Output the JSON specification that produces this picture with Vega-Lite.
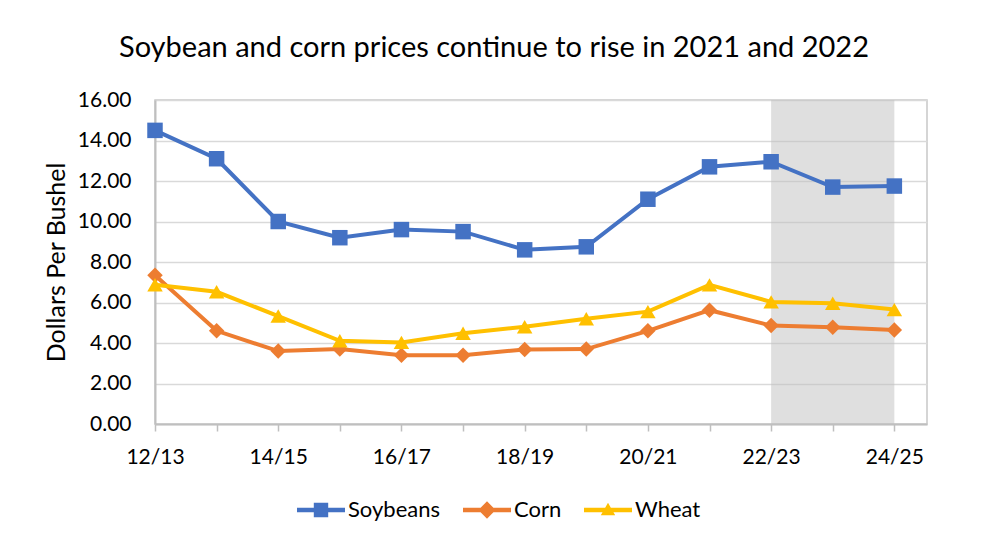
{
  "$schema": "https://vega.github.io/schema/vega-lite/v6.json",
  "width": 772,
  "height": 324,
  "autosize": {"type": "none"},
  "padding": {"left": 155, "top": 100, "right": 62, "bottom": 120},
  "background": "white",
  "config": {"font": "Lato", "view": {"stroke": "#C8C8C8", "strokeWidth": 1.5}},
  "title": {"text": "Soybean and corn prices continue to rise in 2021 and 2022", "fontSize": 29, "font": "Lato", "fontWeight": "normal", "color": "#000000", "anchor": "middle", "dx": -47, "offset": 26},
  "datasets": {
    "prices": [
      {"season": "12/13", "i": 0, "series": "Soybeans", "price": 14.5},
      {"season": "13/14", "i": 1, "series": "Soybeans", "price": 13.1},
      {"season": "14/15", "i": 2, "series": "Soybeans", "price": 10.0},
      {"season": "15/16", "i": 3, "series": "Soybeans", "price": 9.2},
      {"season": "16/17", "i": 4, "series": "Soybeans", "price": 9.6},
      {"season": "17/18", "i": 5, "series": "Soybeans", "price": 9.5},
      {"season": "18/19", "i": 6, "series": "Soybeans", "price": 8.6},
      {"season": "19/20", "i": 7, "series": "Soybeans", "price": 8.75},
      {"season": "20/21", "i": 8, "series": "Soybeans", "price": 11.1},
      {"season": "21/22", "i": 9, "series": "Soybeans", "price": 12.7},
      {"season": "22/23", "i": 10, "series": "Soybeans", "price": 12.95},
      {"season": "23/24", "i": 11, "series": "Soybeans", "price": 11.7},
      {"season": "24/25", "i": 12, "series": "Soybeans", "price": 11.75},
      {"season": "12/13", "i": 0, "series": "Corn", "price": 7.35},
      {"season": "13/14", "i": 1, "series": "Corn", "price": 4.6},
      {"season": "14/15", "i": 2, "series": "Corn", "price": 3.6},
      {"season": "15/16", "i": 3, "series": "Corn", "price": 3.7},
      {"season": "16/17", "i": 4, "series": "Corn", "price": 3.4},
      {"season": "17/18", "i": 5, "series": "Corn", "price": 3.4},
      {"season": "18/19", "i": 6, "series": "Corn", "price": 3.68},
      {"season": "19/20", "i": 7, "series": "Corn", "price": 3.7},
      {"season": "20/21", "i": 8, "series": "Corn", "price": 4.6},
      {"season": "21/22", "i": 9, "series": "Corn", "price": 5.62},
      {"season": "22/23", "i": 10, "series": "Corn", "price": 4.86},
      {"season": "23/24", "i": 11, "series": "Corn", "price": 4.78},
      {"season": "24/25", "i": 12, "series": "Corn", "price": 4.64},
      {"season": "12/13", "i": 0, "series": "Wheat", "price": 6.88},
      {"season": "13/14", "i": 1, "series": "Wheat", "price": 6.53},
      {"season": "14/15", "i": 2, "series": "Wheat", "price": 5.33},
      {"season": "15/16", "i": 3, "series": "Wheat", "price": 4.11},
      {"season": "16/17", "i": 4, "series": "Wheat", "price": 4.03},
      {"season": "17/18", "i": 5, "series": "Wheat", "price": 4.48},
      {"season": "18/19", "i": 6, "series": "Wheat", "price": 4.8},
      {"season": "19/20", "i": 7, "series": "Wheat", "price": 5.2},
      {"season": "20/21", "i": 8, "series": "Wheat", "price": 5.55},
      {"season": "21/22", "i": 9, "series": "Wheat", "price": 6.87},
      {"season": "22/23", "i": 10, "series": "Wheat", "price": 6.03},
      {"season": "23/24", "i": 11, "series": "Wheat", "price": 5.96},
      {"season": "24/25", "i": 12, "series": "Wheat", "price": 5.65}
    ]
  },
  "resolve": {"scale": {"shape": "independent", "fill": "independent"}, "legend": {"shape": "independent", "fill": "independent"}},
  "layer": [
    {
      "data": {"values": [{"from": "22/23", "to": "24/25", "start": 10, "end": 12}]},
      "mark": {"type": "rect", "color": "#BFBFBF", "opacity": 0.5},
      "encoding": {
        "x": {"field": "start", "type": "quantitative", "scale": {"domain": [0, 12.53], "nice": false, "zero": false},
          "axis": {"values": [0,1,2,3,4,5,6,7,8,9,10,11,12], "labelExpr": "datum.value % 2 == 0 ? ['12/13','13/14','14/15','15/16','16/17','17/18','18/19','19/20','20/21','21/22','22/23','23/24','24/25'][datum.value] : ''",
            "title": null, "grid": false, "tickSize": 7, "tickColor": "#BFBFBF", "tickWidth": 1.5, "domainColor": "#BFBFBF", "domainWidth": 2, "labelFontSize": 21, "labelPadding": 15, "labelColor": "#000000", "labelFlush": false, "labelOverlap": false}},
        "x2": {"field": "end"}
      }
    },
    {
      "data": {"name": "prices"},
      "mark": {"type": "line", "strokeWidth": 4},
      "encoding": {
        "x": {"field": "i", "type": "quantitative"},
        "y": {"field": "price", "type": "quantitative", "scale": {"domain": [0, 16], "nice": false},
          "axis": {"values": [0,2,4,6,8,10,12,14,16], "format": ".2f", "labelFontSize": 21, "labelColor": "#000000", "ticks": false, "labelPadding": 24, "domainColor": "#BFBFBF", "domainWidth": 2, "gridColor": "#D9D9D9", "gridWidth": 1.5,
            "title": "Dollars Per Bushel", "titleFontSize": 25, "titleFontWeight": "normal", "titleColor": "#000000", "titlePadding": 8}},
        "color": {"field": "series", "type": "nominal", "scale": {"domain": ["Soybeans", "Corn", "Wheat"], "range": ["#4472C4", "#ED7D31", "#FFC000"]}, "legend": null}
      }
    },
    {
      "data": {"name": "prices"},
      "mark": {"type": "point", "filled": true, "opacity": 1, "size": 240},
      "encoding": {
        "x": {"field": "i", "type": "quantitative"},
        "y": {"field": "price", "type": "quantitative"},
        "color": {"field": "series", "type": "nominal", "legend": null},
        "shape": {"field": "series", "type": "nominal", "scale": {"domain": ["Soybeans", "Corn", "Wheat"], "range": ["square", "diamond", "triangle-up"]}, "legend": null}
      }
    },
    {
      "data": {"name": "prices"},
      "mark": {"type": "point", "filled": true, "opacity": 0, "size": 10},
      "encoding": {
        "x": {"field": "i", "type": "quantitative"},
        "y": {"field": "price", "type": "quantitative"},
        "fill": {"field": "series", "type": "nominal", "scale": {"domain": ["Soybeans", "Corn", "Wheat"], "range": ["#4472C4", "#ED7D31", "#FFC000"]},
          "legend": {"orient": "none", "legendX": 142, "legendY": 386, "direction": "horizontal", "title": null, "labelFontSize": 22, "labelColor": "#000000", "labelOffset": 3, "columnPadding": 22, "symbolSize": 2304, "symbolStrokeWidth": 0, "symbolOpacity": 1}},
        "shape": {"field": "series", "type": "nominal", "scale": {"domain": ["Soybeans", "Corn", "Wheat"], "range": ["M-1,-0.09H1V0.09H-1Z M-0.3,-0.3H0.3V0.3H-0.3Z", "M-1,-0.09H1V0.09H-1Z M0,-0.36L0.36,0L0,0.36L-0.36,0Z", "M-1,-0.09H1V0.09H-1Z M0,-0.3L0.3,0.22L-0.3,0.22Z"]},
          "legend": {"orient": "none", "legendX": 142, "legendY": 386, "direction": "horizontal", "title": null, "labelFontSize": 22, "labelColor": "#000000", "labelOffset": 3, "columnPadding": 22, "symbolSize": 2304, "symbolStrokeWidth": 0, "symbolOpacity": 1}}
      }
    }
  ]
}
